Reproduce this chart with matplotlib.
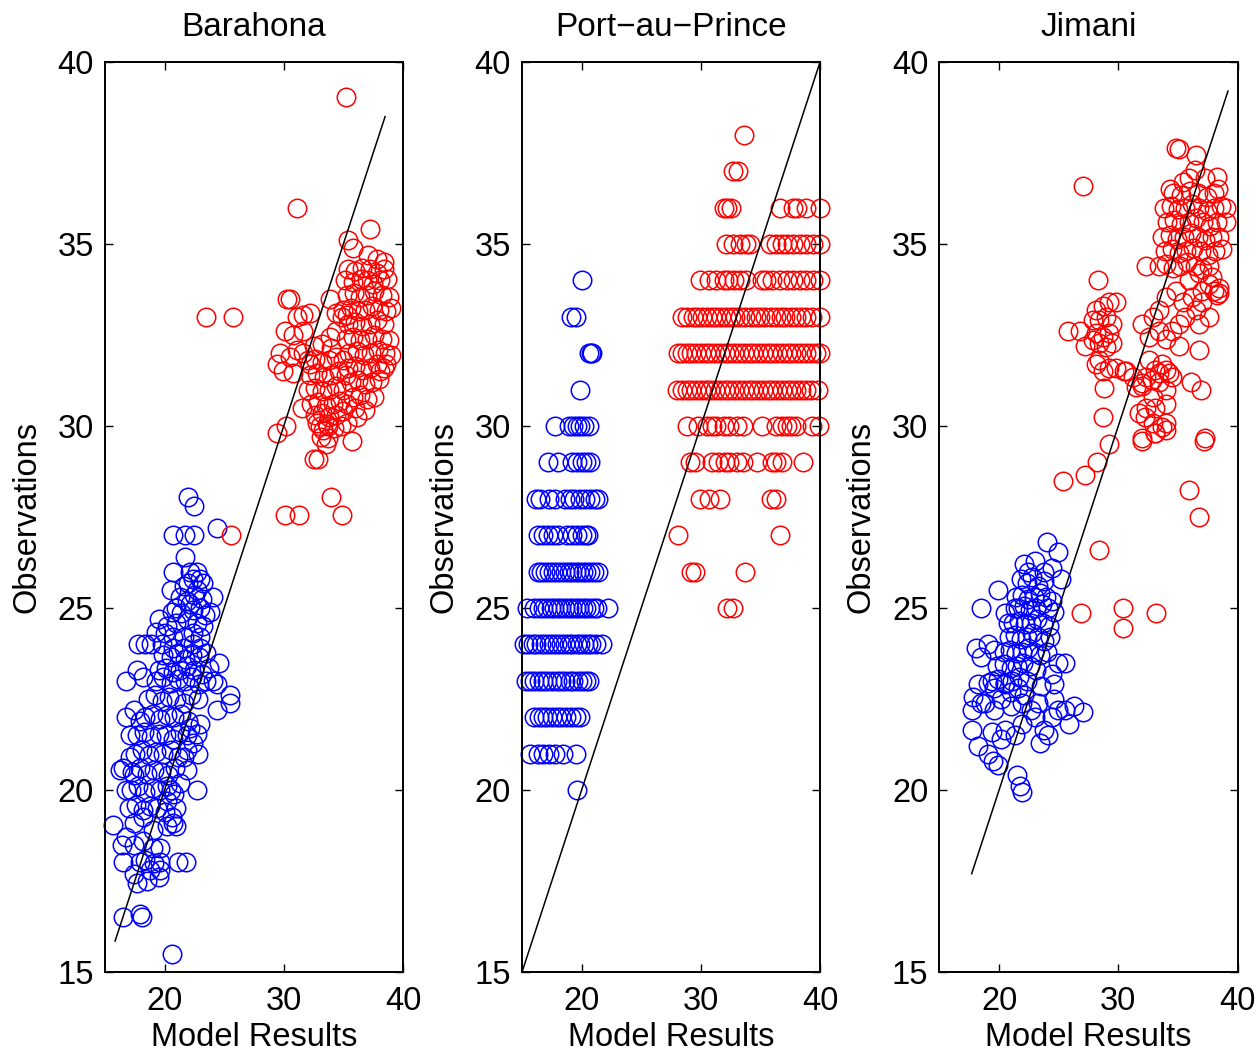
import matplotlib
matplotlib.use('Agg')
import matplotlib.pyplot as plt

plt.rcParams['font.family'] = ['Liberation Sans', 'DejaVu Sans']
plt.rcParams['font.size'] = 23.5

barahona_blue = [
    (22.0, 28.06), (22.5, 27.8), (20.7, 27.0), (21.7, 27.0), (22.5, 27.0), (24.4, 27.2),
    (21.7, 26.4), (20.7, 26.0), (22.1, 26.0), (22.7, 26.0), (23.0, 25.8), (22.4, 25.8), (22.0, 25.7),
    (20.5, 25.5), (21.6, 25.6), (22.7, 25.5), (23.2, 25.7), (24.1, 25.3),
    (21.0, 25.0), (22.1, 25.1), (23.0, 25.0), (23.8, 24.9), (19.5, 24.7),
    (20.2, 24.5), (21.0, 24.6), (21.9, 24.7), (22.7, 24.6), (23.2, 24.5),
    (19.3, 24.35), (20.0, 24.3), (20.7, 24.2), (21.6, 24.2), (22.4, 24.3), (23.0, 24.2),
    (17.8, 24.0), (18.4, 24.0), (18.9, 24.0), (19.75, 24.0), (20.7, 23.9), (21.6, 23.9), (22.4, 24.0), (23.0, 23.9),
    (24.6, 23.5), (16.8, 23.0), (17.7, 23.3), (18.2, 23.1), (24.1, 23.0), (24.4, 22.9), (25.5, 22.6),
    (25.5, 22.4), (24.4, 22.2), (23.0, 21.8), (22.8, 21.0), (22.7, 20.0), (21.9, 20.55), (21.6, 20.9),
    (16.8, 22.0), (17.4, 22.2), (17.9, 21.9), (17.1, 21.5), (16.5, 20.6), (16.3, 20.55), (17.1, 20.9),
    (17.4, 20.4), (16.8, 20.0), (15.7, 19.04), (16.4, 18.5), (16.8, 18.7), (16.5, 18.03), (17.9, 18.03),
    (18.4, 18.07), (19.1, 17.99), (19.6, 18.03), (21.1, 18.03), (21.8, 18.03), (17.7, 17.44), (18.5, 17.5),
    (19.5, 17.6), (16.5, 16.5), (17.9, 16.6), (18.1, 16.5), (20.6, 15.5),
    (17.4, 19.1), (18.2, 19.27), (19.0, 18.9), (20.2, 19.0), (20.7, 19.1), (20.6, 19.27), (21.0, 19.0),
    (17.4, 18.5), (18.2, 18.6), (19.0, 18.4), (19.6, 18.4), (18.8, 17.8), (19.6, 17.8), (17.4, 17.7),
    (20.2, 19.7), (21.0, 19.5), (20.5, 20.0), (21.3, 20.2), (21.9, 21.1), (22.4, 21.3), (22.7, 21.55), (22.1, 21.7),
    (21.3, 25.3), (21.9, 25.2), (22.5, 25.35), (23.1, 25.25),
    (20.6, 24.9), (21.4, 24.85), (22.4, 24.95), (23.4, 24.8),
    (19.9, 23.7), (20.5, 23.65), (21.1, 23.75), (21.7, 23.6), (22.3, 23.7), (22.9, 23.65), (23.5, 23.75),
    (19.5, 23.3), (20.1, 23.35), (20.7, 23.25), (21.3, 23.3), (21.9, 23.4), (22.5, 23.3), (23.1, 23.2), (23.7, 23.35),
    (17.0, 19.5), (17.6, 19.6), (18.2, 19.45), (18.8, 19.55), (19.4, 19.5), (20.0, 19.4),
    (17.2, 20.0), (17.8, 20.1), (18.4, 19.95), (19.0, 20.05), (19.6, 20.0), (20.2, 20.1), (20.8, 19.9),
    (17.3, 20.5), (17.9, 20.6), (18.5, 20.45), (19.1, 20.55), (19.7, 20.5), (20.3, 20.4), (20.9, 20.6),
    (17.5, 21.0), (18.1, 21.1), (18.7, 20.95), (19.3, 21.05), (19.9, 21.0), (20.5, 21.1), (21.1, 20.9),
    (17.7, 21.5), (18.3, 21.6), (18.9, 21.45), (19.5, 21.55), (20.1, 21.5), (20.7, 21.4), (21.3, 21.6), (21.9, 21.5),
    (18.4, 22.0), (19.0, 22.1), (19.6, 21.95), (20.2, 22.05), (20.8, 22.0), (21.4, 22.1), (22.0, 21.9),
    (18.6, 22.5), (19.2, 22.6), (19.8, 22.45), (20.4, 22.55), (21.0, 22.5), (21.6, 22.4), (22.2, 22.6), (22.8, 22.5),
    (19.3, 23.0), (19.9, 23.1), (20.5, 22.95), (21.1, 23.05), (21.7, 23.0), (22.3, 23.1), (22.9, 22.9), (23.5, 23.0),
]
barahona_red = [
    (35.2, 39.03), (31.1, 36.0), (35.4, 35.1), (37.2, 35.4), (37.1, 34.7), (37.8, 34.6), (38.4, 34.5),
    (35.8, 34.9), (30.5, 33.5), (30.3, 33.5), (33.9, 33.5), (31.6, 33.05), (31.1, 33.0), (32.2, 33.1),
    (34.4, 33.1), (34.9, 33.0), (35.3, 33.05), (30.1, 32.6), (30.8, 32.5), (31.6, 32.6), (34.4, 32.6),
    (33.9, 32.45), (29.4, 31.7), (29.96, 31.5), (30.5, 31.9), (31.1, 32.1), (31.6, 32.0), (32.2, 31.7),
    (30.8, 31.45), (29.7, 32.0), (29.4, 29.8), (30.2, 30.0), (31.5, 30.5), (32.8, 30.07), (33.3, 29.9),
    (33.7, 30.0), (33.1, 29.7), (33.5, 29.5), (33.7, 29.66), (35.7, 29.6), (35.3, 30.07), (36.1, 30.26),
    (38.05, 31.5), (38.6, 31.7), (32.5, 29.1), (32.9, 29.1), (34.0, 28.06), (30.1, 27.55), (31.3, 27.55),
    (34.9, 27.55), (23.5, 33.0), (25.7, 33.0), (25.6, 27.0),
    (35.4, 34.3), (36.0, 34.25), (36.6, 34.35), (37.2, 34.3), (37.8, 34.2), (38.4, 34.3),
    (35.1, 34.0), (35.8, 33.95), (36.5, 34.05), (37.0, 34.0), (37.5, 33.9), (38.1, 34.0), (38.7, 34.05),
    (35.3, 33.6), (35.9, 33.65), (36.4, 33.55), (37.0, 33.6), (37.6, 33.7), (38.2, 33.6), (38.8, 33.55),
    (35.0, 33.2), (35.6, 33.25), (36.2, 33.15), (36.8, 33.2), (37.4, 33.3), (38.0, 33.2), (38.6, 33.15), (39.0, 33.25),
    (35.4, 32.8), (36.0, 32.85), (36.6, 32.75), (37.2, 32.8), (37.8, 32.9), (38.4, 32.8),
    (35.2, 32.4), (35.8, 32.45), (36.4, 32.35), (37.0, 32.4), (37.6, 32.5), (38.2, 32.4), (38.8, 32.35),
    (35.5, 32.0), (36.1, 32.05), (36.7, 31.95), (37.3, 32.0), (37.9, 32.1), (38.5, 32.0), (39.0, 31.95),
    (35.4, 31.6), (36.0, 31.65), (36.6, 31.55), (37.2, 31.6), (37.8, 31.7), (38.4, 31.6),
    (35.6, 31.2), (36.2, 31.25), (36.8, 31.15), (37.4, 31.2), (38.0, 31.3),
    (35.8, 30.8), (36.4, 30.85), (37.0, 30.75), (37.6, 30.8), (36.0, 30.5), (36.8, 30.45),
    (32.5, 32.2), (33.2, 32.25), (34.0, 32.15),
    (32.0, 31.8), (32.6, 31.85), (33.2, 31.75), (33.8, 31.8), (34.4, 31.9), (35.0, 31.8),
    (32.2, 31.4), (32.8, 31.45), (33.4, 31.35), (34.0, 31.4), (34.6, 31.5), (35.2, 31.4),
    (32.0, 31.0), (32.6, 31.05), (33.2, 30.95), (33.8, 31.0), (34.4, 31.1), (35.0, 31.0),
    (32.3, 30.6), (32.9, 30.65), (33.5, 30.55), (34.1, 30.6), (34.7, 30.7), (35.3, 30.6),
    (32.6, 30.3), (33.2, 30.35), (33.8, 30.25), (34.4, 30.3), (35.0, 30.4),
    (33.0, 30.0), (33.6, 30.05), (34.2, 29.95), (34.8, 30.0),
]
barahona_line = [15.85, 38.5]

# ---- Port-au-Prince: observations are whole degrees, model values per row ----
pap_blue_rows = {
    34: [20.0],
    33: [19.1, 19.5],
    32: [20.6, 20.8, 20.9],
    31: [19.9],
    30: [17.8, 18.9, 19.3, 19.6, 19.9, 20.2, 20.6],
    29: [17.2, 18.0, 19.2, 19.6, 20.0, 20.4, 20.7],
    28: [16.2, 16.5, 17.3, 17.8, 18.6, 19.0, 19.4, 19.9, 20.3, 20.7, 21.1, 21.4],
    27: [16.3, 16.8, 17.2, 17.6, 18.0, 18.8, 19.2, 19.6, 20.0, 20.4, 20.5],
    26: [16.3, 16.6, 16.9, 17.3, 17.6, 17.9, 18.3, 18.6, 18.9, 19.2, 19.5, 19.8, 20.1, 20.4, 20.7, 21.0, 21.4],
    25: [15.4, 16.0, 16.4, 16.8, 17.1, 17.4, 17.7, 18.0, 18.3, 18.6, 18.9, 19.2, 19.5, 19.8, 20.1, 20.4, 20.7,
         21.0, 21.3, 22.2],
    24: [15.2, 15.5, 15.9, 16.2, 16.6, 16.9, 17.3, 17.6, 17.9, 18.3, 18.6, 18.9, 19.2, 19.6, 19.9, 20.2, 20.5,
         20.8, 21.2, 21.7],
    23: [15.3, 15.7, 16.0, 16.4, 16.8, 17.1, 17.5, 17.9, 18.3, 18.6, 19.0, 19.3, 19.7, 20.0, 20.4, 20.6],
    22: [16.0, 16.4, 16.8, 17.1, 17.5, 17.9, 18.3, 18.7, 19.1, 19.5, 19.9],
    21: [15.7, 16.3, 16.8, 17.3, 17.8, 18.4, 19.5],
    20: [19.6],
}
pap_red_rows = {
    38: [33.6],
    37: [32.7, 33.1],
    36: [31.9, 32.2, 32.5, 36.6, 37.7, 38.1, 38.8, 40.0],
    35: [32.1, 32.7, 33.3, 33.8, 34.1, 35.8, 36.3, 36.8, 37.2, 37.7, 38.3, 38.8, 39.4, 40.0],
    34: [29.9, 30.7, 31.3, 31.9, 32.3, 32.8, 33.3, 33.8, 35.1, 35.5, 36.0, 36.6, 37.2, 37.7, 38.3, 38.8,
         39.4, 40.0],
    33: [28.4, 28.8, 29.3, 29.7, 30.1, 30.5, 30.9, 31.3, 31.7, 32.1, 32.5, 32.9, 33.3, 33.7, 34.2, 34.6,
         35.0, 35.4, 35.9, 36.3, 36.7, 37.1, 37.6, 38.0, 38.4, 38.8, 39.3, 40.0],
    32: [28.1, 28.4, 28.8, 29.2, 29.6, 30.0, 30.4, 30.8, 31.2, 31.6, 32.0, 32.4, 32.8, 33.2, 33.6, 34.0,
         34.4, 34.8, 35.2, 35.6, 36.0, 36.4, 36.8, 37.2, 37.6, 38.0, 38.4, 38.8, 39.2, 39.7, 40.0],
    31: [28.0, 28.4, 28.8, 29.2, 29.6, 30.0, 30.4, 30.8, 31.2, 31.6, 32.0, 32.4, 32.8, 33.2, 33.6, 34.0,
         34.4, 34.8, 35.2, 35.6, 36.0, 36.4, 36.8, 37.2, 37.6, 38.0, 38.4, 38.8, 39.2, 39.8],
    30: [28.8, 29.8, 30.5, 30.9, 31.3, 31.9, 32.4, 33.0, 33.5, 35.1, 36.3, 36.8, 37.2, 37.6, 38.0, 39.3, 39.9],
    29: [29.1, 29.5, 30.9, 31.4, 32.0, 32.4, 33.0, 33.5, 34.7, 36.0, 36.3, 36.8, 38.6],
    28: [29.9, 30.7, 31.6, 35.9, 36.3],
    27: [28.1, 36.6],
    26: [29.2, 29.5, 33.7],
    25: [32.2, 32.7],
}
pap_line = [15.0, 40.0]

# ---- Jimani ----
jimani_blue = [
    (24.0, 26.8), (24.9, 26.55), (22.1, 26.2), (23.0, 26.3), (22.4, 26.0), (23.8, 26.0), (24.4, 26.1),
    (25.2, 25.8), (19.9, 25.5), (18.5, 25.0), (20.5, 24.85), (20.75, 24.6), (21.3, 25.0),
    (18.1, 23.9), (18.5, 23.65), (19.1, 24.0), (19.6, 23.85), (25.5, 23.5), (24.9, 23.5), (24.4, 23.2),
    (24.6, 22.9), (23.5, 22.85), (18.2, 22.9), (17.8, 22.55), (18.5, 22.4), (17.7, 22.2),
    (19.1, 22.95), (19.6, 22.8), (20.5, 22.9), (21.0, 22.7), (21.6, 22.8), (22.1, 22.6),
    (18.8, 22.4), (19.6, 22.2), (20.2, 22.5), (21.0, 22.3), (21.9, 22.4),
    (27.0, 22.15), (26.3, 22.3), (25.5, 22.2), (24.9, 22.2), (25.9, 21.8), (18.2, 21.2), (17.7, 21.65),
    (19.1, 21.0), (19.5, 20.8), (19.9, 20.7), (19.4, 21.6), (20.2, 21.4), (20.5, 21.65), (21.3, 21.5),
    (21.9, 21.8), (23.0, 22.0), (23.8, 21.65), (24.1, 21.5), (24.4, 22.0), (21.5, 20.4), (21.75, 20.1),
    (21.9, 19.95), (24.6, 22.5), (22.7, 22.2), (23.3, 22.4), (23.4, 21.3),
    (21.8, 25.8), (22.3, 25.7), (22.8, 25.85), (23.3, 25.6), (23.8, 25.75),
    (21.4, 25.3), (21.9, 25.35), (22.4, 25.25), (22.9, 25.3), (23.4, 25.4), (23.9, 25.3), (24.4, 25.2),
    (21.6, 25.0), (22.1, 25.05), (22.6, 24.95), (23.1, 25.0), (23.6, 25.1), (24.1, 25.0), (24.6, 24.9),
    (21.2, 24.6), (21.7, 24.65), (22.2, 24.55), (22.7, 24.6), (23.2, 24.7), (23.7, 24.6), (24.2, 24.5),
    (20.8, 24.2), (21.3, 24.25), (21.8, 24.15), (22.3, 24.2), (22.8, 24.3), (23.3, 24.2), (23.8, 24.1), (24.3, 24.2),
    (20.4, 23.8), (20.9, 23.85), (21.4, 23.75), (21.9, 23.8), (22.4, 23.9), (22.9, 23.8), (23.4, 23.7), (24.0, 23.8),
    (19.8, 23.4), (20.4, 23.45), (21.0, 23.35), (21.5, 23.4), (22.0, 23.5), (22.6, 23.4), (23.1, 23.3),
    (19.4, 23.0), (19.9, 23.05), (20.5, 22.95), (21.1, 23.0), (21.7, 23.1), (22.3, 23.0),
]
jimani_red = [
    (34.8, 37.63), (35.1, 37.6), (36.5, 37.45), (36.4, 37.03), (38.3, 36.85),
    (34.3, 36.5), (35.4, 36.7), (35.9, 36.8), (37.3, 36.8), (38.4, 36.5), (32.3, 34.4),
    (39.0, 36.0), (39.0, 35.6), (38.45, 35.2), (38.7, 34.85), (38.45, 33.65), (37.6, 33.9), (38.0, 33.7),
    (29.8, 33.4), (32.0, 32.8), (32.9, 33.0), (33.4, 33.2),
    (32.6, 32.45), (33.4, 32.6), (34.0, 32.4), (34.5, 32.6), (35.1, 32.8), (35.6, 33.0), (36.5, 33.2), (37.0, 33.4),
    (35.1, 32.2), (36.8, 32.1), (36.8, 32.8), (37.6, 33.0),
    (32.6, 31.8), (33.1, 31.55), (33.7, 31.7), (34.25, 31.45), (32.3, 31.35), (33.4, 31.2), (34.0, 31.0),
    (32.9, 30.8), (32.0, 31.1), (30.65, 31.5),
    (32.2, 30.25), (33.1, 30.5), (34.0, 30.6), (33.7, 29.98), (33.1, 29.8), (32.9, 30.07), (32.0, 29.66),
    (36.1, 31.2), (36.9, 31.0), (37.3, 29.66),
    (35.95, 34.0), (36.8, 34.2), (37.0, 33.7), (37.9, 34.1), (38.45, 33.8),
    (34.0, 33.55), (34.8, 33.7), (35.4, 33.4), (36.2, 33.55),
    (34.6, 36.4), (35.3, 36.35), (36.0, 36.45), (36.7, 36.4), (37.4, 36.3), (38.0, 36.4),
    (33.8, 36.0), (34.4, 36.05), (35.0, 35.95), (35.6, 36.0), (36.2, 36.1), (36.8, 36.0), (37.4, 35.9),
    (38.0, 36.0), (38.6, 36.05),
    (34.1, 35.6), (34.7, 35.65), (35.3, 35.55), (35.9, 35.6), (36.5, 35.7), (37.1, 35.6), (37.7, 35.5), (38.3, 35.6),
    (33.7, 35.2), (34.3, 35.25), (34.9, 35.15), (35.5, 35.2), (36.1, 35.3), (36.7, 35.2), (37.3, 35.1), (37.9, 35.2),
    (33.9, 34.8), (34.5, 34.85), (35.1, 34.75), (35.7, 34.8), (36.3, 34.9), (36.9, 34.8), (37.5, 34.7), (38.1, 34.8),
    (33.4, 34.4), (34.0, 34.45), (34.6, 34.35), (35.2, 34.4), (35.8, 34.5), (36.4, 34.4), (37.0, 34.3), (37.6, 34.4),
    (28.3, 34.0), (25.8, 32.6), (26.75, 32.6), (27.2, 32.2),
    (28.1, 33.2), (28.7, 33.3), (29.25, 33.4), (27.9, 32.9), (28.4, 32.9), (29.0, 33.0), (29.5, 32.8),
    (28.1, 32.55), (28.7, 32.45), (29.25, 32.55), (27.9, 32.36), (28.4, 32.27), (29.0, 32.18), (29.5, 32.27),
    (28.4, 31.8), (29.25, 31.6), (28.1, 31.7), (30.5, 31.5), (28.7, 31.5), (29.8, 31.6),
    (28.8, 31.03), (28.7, 30.26), (29.25, 29.5), (28.25, 29.0), (25.35, 28.5), (27.2, 28.65), (27.0, 36.6),
    (28.4, 26.6), (26.9, 24.85), (30.4, 25.0), (30.4, 24.45), (33.2, 24.85), (35.95, 28.25), (36.8, 27.5),
    (37.2, 29.6), (32.0, 29.6), (33.1, 29.8), (34.0, 29.9), (34.0, 30.07), (31.75, 30.35), (32.3, 30.5),
    (31.2, 31.35), (31.45, 31.08), (32.0, 31.17), (32.85, 31.26), (33.4, 31.45), (34.0, 31.54), (34.5, 31.35),
    (38.3, 33.6),
]
jimani_line = [17.7, 39.2]

titles = ['Barahona', 'Port\u2212au\u2212Prince', 'Jimani']
x_ticks = [20, 30, 40]
y_ticks = [15, 20, 25, 30, 35, 40]


def rows_to_pairs(rows):
    pairs = []
    for obs, models in rows.items():
        for m in models:
            pairs.append((m, obs))
    return pairs


panels = [
    (barahona_blue, barahona_red, barahona_line),
    (rows_to_pairs(pap_blue_rows), rows_to_pairs(pap_red_rows), pap_line),
    (jimani_blue, jimani_red, jimani_line),
]

fig = plt.figure(figsize=(12.57, 10.54), dpi=100, facecolor='w')
lefts = [0.0835, 0.4153, 0.7474]
for left, title, (blue, red, line) in zip(lefts, titles, panels):
    ax = fig.add_axes([left, 0.0778, 0.2371, 0.8634])
    bx, by = zip(*blue)
    rx, ry = zip(*red)
    ax.plot(bx, by, 'o', mfc='none', mec='b', ms=13.3, mew=1.1, clip_on=False)
    ax.plot(rx, ry, 'o', mfc='none', mec='r', ms=13.3, mew=1.1, clip_on=False)
    ax.plot(line, line, 'k-', lw=1.1)
    ax.set_xlim(15, 40)
    ax.set_ylim(15, 40)
    ax.set_xticks(x_ticks)
    ax.set_yticks(y_ticks)
    ax.tick_params(direction='in', top=True, right=True, length=6, width=1.0)
    ax.tick_params(axis='x', pad=10)
    ax.tick_params(axis='y', pad=8)
    for s in ax.spines.values():
        s.set_linewidth(1.4)
    ax.set_title(title, pad=19, fontsize=24)
    ax.set_xlabel('Model Results', labelpad=3.5)
    ax.set_ylabel('Observations', labelpad=11)

plt.savefig('out.png', dpi=100)
